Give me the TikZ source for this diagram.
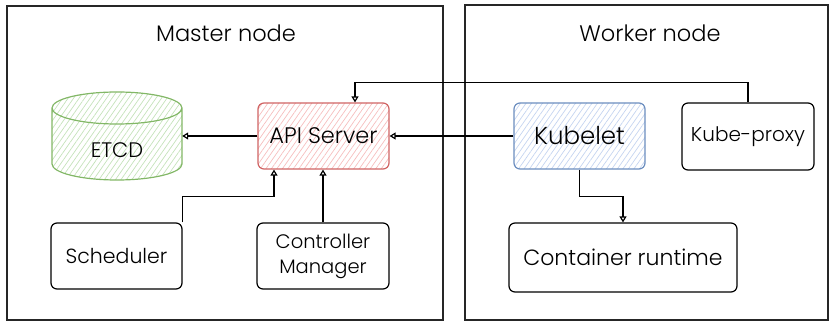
\documentclass[tikz,border=0pt]{standalone}
\usepackage{fontspec}
\setmainfont{Poppins}[UprightFont=* Light]
\usetikzlibrary{arrows.meta,patterns.meta,calc}
\definecolor{etcdline}{RGB}{130,183,102}
\definecolor{etcdfill}{RGB}{196,226,186}
\definecolor{apiline}{RGB}{208,100,100}
\definecolor{apifill}{RGB}{246,190,190}
\definecolor{kubeline}{RGB}{108,142,191}
\definecolor{kubefill}{RGB}{196,212,240}
\begin{document}
\begin{tikzpicture}[x=1pt,y=1pt,
  frame/.style={draw=black!85,line width=1.2pt},
  box/.style={draw=black,line width=1.2pt,rounded corners=6pt,inner sep=0pt,
    align=center,font=\fontsize{20}{25}\selectfont},
  hatch/.style={pattern={Lines[angle=55,distance=4.5pt,line width=0.7pt]},pattern color=#1},
  arr/.style={draw=black,line width=1.2pt,-{Triangle[open,length=6pt,width=7pt]}},
  title/.style={font=\fontsize{22.5}{26}\selectfont}]
\useasboundingbox (0,0) rectangle (831,321);
% cluster frames
\draw[frame] (7,1) rectangle (443,315);
\draw[frame] (465,1) rectangle (828,316);
\node[title] (mtitle) at (226,288) {Master node};
\node[title] (wtitle) at (650,288) {Worker node};
% etcd store (cylinder)
\node[minimum width=130pt,minimum height=88pt,inner sep=0pt] (etcd) at (117,185) {};
\path[hatch=etcdfill] (52,213) -- (52,157) arc (180:360:65 and 16) -- (182,213) arc (0:180:65 and 16) -- cycle;
\draw[draw=etcdline,line width=1.2pt]
  (52,213) -- (52,157) arc (180:360:65 and 16) -- (182,213) arc (0:180:65 and 16) -- cycle
  (52,213) arc (180:360:65 and 16);
\node[font=\fontsize{21}{25}\selectfont] (etcdtext) at (117,171) {ETCD};
% control plane components
\node[box,draw=apiline,hatch=apifill,minimum width=131pt,minimum height=66pt,font=\fontsize{22.5}{26}\selectfont] (api) at (323.5,185) {API Server};
\node[box,minimum width=131pt,minimum height=66pt,font=\fontsize{20.5}{25}\selectfont] (sched) at (116.5,65) {Scheduler};
\node[box,minimum width=132pt,minimum height=66pt,font=\fontsize{19.5}{25}\selectfont] (ctrl) at (323,65) {Controller\\Manager};
% worker components
\node[box,draw=kubeline,hatch=kubefill,minimum width=131pt,minimum height=66pt,font=\fontsize{24.5}{28}\selectfont] (kubelet) at (579.5,185) {Kubelet};
\node[box,minimum width=132pt,minimum height=67pt] (kproxy) at (748,184.5) {Kube-proxy};
\node[box,minimum width=228pt,minimum height=69pt,font=\fontsize{22}{26}\selectfont] (runtime) at (623,63.5) {Container runtime};
% connectors
\draw[arr] (api.west) -- (etcd.east);
\draw[arr] (kubelet.west) -- (api.east);
\draw[arr] (kproxy.north) -- ++(0,20) -| ([xshift=31.5pt]api.north);
\draw[arr] (sched.north east) -- ++(0,26) -| ([xshift=-49.5pt]api.south);
\draw[arr] (ctrl.north) -- (api.south -| ctrl.north);
\draw[arr] (kubelet.south) -- ++(0,-27) -| (runtime.north);
\end{tikzpicture}
\end{document}
